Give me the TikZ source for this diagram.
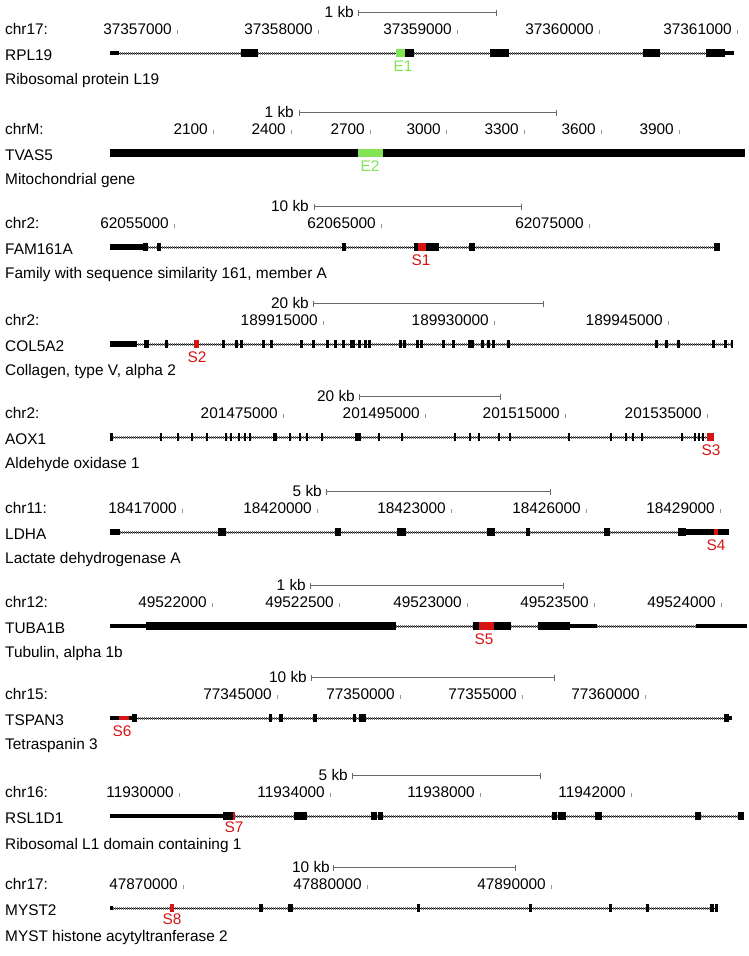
\documentclass[tikz,border=0pt]{standalone}
\usepackage{fontspec}
\setmainfont{Liberation Sans}
\usepackage{tikz}
\usetikzlibrary{arrows.meta, positioning}

\definecolor{hitred}{RGB}{214,20,20}
\definecolor{hitgreen}{RGB}{130,228,85}
\definecolor{rulegray}{RGB}{105,105,105}

\begin{document}
\begin{tikzpicture}[
    x=1pt, y=-1pt,
    font=\fontsize{15.4}{18}\selectfont,
    txt/.style={anchor=base west, inner sep=0pt},
    poslbl/.style={anchor=base east, inner sep=0pt},
    hit/.style={anchor=base, inner sep=0pt, text=#1},
    hit/.default={hitred},
    scalebar/.style={draw=rulegray, line width=0.9pt, {Bar[width=6pt]}-{Bar[width=6pt]}},
    tickmark/.style={draw=rulegray!70, line width=0.8pt},
    intron/.style={draw=black, line width=0.8pt, postaction={draw=black!55, line width=3pt, dash pattern=on 0.8pt off 1.2pt}}
]
\useasboundingbox (0,0) rectangle (749,956);

% RPL19
\begin{scope}[shift={(0,53)}]
\node[txt] (chrA) at (5,-19) {chr17:};
\node[poslbl] (kbA) at (354,-36) {1 kb};
\draw[scalebar] (358,-40.5) -- (497,-40.5);
\foreach \t/\v in {177/37357000, 318/37358000, 457/37359000, 599/37360000, 737/37361000}{
  \node[poslbl] at (\t-5,-19) {\v};
  \draw[tickmark] (\t,-23) -- (\t,-19);
}
\node[txt] (geneA) at (5,7) {RPL19};
\node[txt] (descA) at (5,31) {Ribosomal protein L19};
\draw[intron] (112,0) -- (732,0);
\foreach \a/\b in {241/258, 396/414, 490/509, 643/660, 706/725}
  \fill (\a,-3.8) rectangle (\b,3.8);
\foreach \a/\b in {110/119, 725/734}
  \fill (\a,-2.4) rectangle (\b,2.4);
\fill[hitgreen] (396,-3.8) rectangle (405,3.8);
\node[hit=hitgreen] (hitE1) at (403,18) {E1};
\end{scope}

% TVAS5
\begin{scope}[shift={(0,153)}]
\node[txt] (chrB) at (5,-19) {chrM:};
\node[poslbl] (kbB) at (294,-36) {1 kb};
\draw[scalebar] (299,-40.5) -- (557,-40.5);
\foreach \t/\v in {213/2100, 291/2400, 370/2700, 446/3000, 524/3300, 601/3600, 679/3900}{
  \node[poslbl] at (\t-5,-19) {\v};
  \draw[tickmark] (\t,-23) -- (\t,-19);
}
\node[txt] (geneB) at (5,7) {TVAS5};
\node[txt] (descB) at (5,31) {Mitochondrial gene};
\fill (110,-3.6) rectangle (745,3.6);
\fill[hitgreen] (358,-3.6) rectangle (383,3.6);
\node[hit=hitgreen] (hitE2) at (370,18) {E2};
\end{scope}

% FAM161A
\begin{scope}[shift={(0,247)}]
\node[txt] (chrC) at (5,-19) {chr2:};
\node[poslbl] (kbC) at (309,-36) {10 kb};
\draw[scalebar] (314,-40.5) -- (522,-40.5);
\foreach \t/\v in {174/62055000, 381/62065000, 589/62075000}{
  \node[poslbl] at (\t-5,-19) {\v};
  \draw[tickmark] (\t,-23) -- (\t,-19);
}
\node[txt] (geneC) at (5,7) {FAM161A};
\node[txt] (descC) at (5,31) {Family with sequence similarity 161, member A};
\draw[intron] (112,0) -- (718,0);
\fill (110,-3) rectangle (143,3);
\foreach \a/\b in {143/148, 157/161, 342/346, 414/439, 469/475, 714/720}
  \fill (\a,-3.8) rectangle (\b,3.8);
\fill[hitred] (418,-3.8) rectangle (426,3.8);
\node[hit] (hitS1) at (421,18) {S1};
\end{scope}

% COL5A2
\begin{scope}[shift={(0,344)}]
\node[txt] (chrD) at (5,-19) {chr2:};
\node[poslbl] (kbD) at (309,-36) {20 kb};
\draw[scalebar] (313,-40.5) -- (544,-40.5);
\foreach \t/\v in {323/189915000, 494/189930000, 668/189945000}{
  \node[poslbl] at (\t-5,-19) {\v};
  \draw[tickmark] (\t,-23) -- (\t,-19);
}
\node[txt] (geneD) at (5,7) {COL5A2};
\node[txt] (descD) at (5,31) {Collagen, type V, alpha 2};
\draw[intron] (112,0) -- (731,0);
\fill (110,-3) rectangle (137,3);
\foreach \a/\b in {144/149, 165/168, 222/225, 235/237.5, 240/242.5, 262/264.5, 270/273,
    300/302.5, 312/314.5, 326/329, 334/336.5, 342/344.5, 350/355, 358/360.5, 364/366.5,
    368/370.5, 399/402, 403/406, 416/419, 420/422.5, 442/444.5, 452/455, 468/474, 481/483.5,
    487/490, 492/494.5, 507/510, 655/658, 665/667.5, 677/679.5, 712/714.5, 724/726.5, 730.5/733}
  \fill (\a,-3.8) rectangle (\b,3.8);
\fill[hitred] (194,-3.8) rectangle (199,3.8);
\node[hit] (hitS2) at (197,18) {S2};
\end{scope}

% AOX1
\begin{scope}[shift={(0,437)}]
\node[txt] (chrE) at (5,-19) {chr2:};
\node[poslbl] (kbE) at (355,-36) {20 kb};
\draw[scalebar] (359,-40.5) -- (501,-40.5);
\foreach \t/\v in {283/201475000, 425/201495000, 565/201515000, 707/201535000}{
  \node[poslbl] at (\t-5,-19) {\v};
  \draw[tickmark] (\t,-23) -- (\t,-19);
}
\node[txt] (geneE) at (5,7) {AOX1};
\node[txt] (descE) at (5,31) {Aldehyde oxidase 1};
\draw[intron] (111,0) -- (710,0);
\foreach \c in {111.5, 161, 178, 192, 207, 226, 231, 239, 245, 250, 290, 300, 307, 322,
    356.5, 359.5, 379, 402, 455, 470, 479, 499, 510, 569, 611, 626, 633, 642, 682, 695, 699, 703}
  \fill (\c-1.2,-3.8) rectangle (\c+1.2,3.8);
\fill (273,-3.8) rectangle (277,3.8);
\fill[hitred] (707,-3.8) rectangle (714,3.8);
\node[hit] (hitS3) at (711,18) {S3};
\end{scope}

% LDHA
\begin{scope}[shift={(0,532)}]
\node[txt] (chrF) at (5,-19) {chr11:};
\node[poslbl] (kbF) at (322,-36) {5 kb};
\draw[scalebar] (326,-40.5) -- (551,-40.5);
\foreach \t/\v in {182/18417000, 317/18420000, 451/18423000, 586/18426000, 720/18429000}{
  \node[poslbl] at (\t-5,-19) {\v};
  \draw[tickmark] (\t,-23) -- (\t,-19);
}
\node[txt] (geneF) at (5,7) {LDHA};
\node[txt] (descF) at (5,31) {Lactate dehydrogenase A};
\draw[intron] (112,0) -- (727,0);
\foreach \a/\b in {218/226, 335/341, 397/406, 487/495, 526/530, 604/610, 678/686}
  \fill (\a,-3.8) rectangle (\b,3.8);
\foreach \a/\b in {110/120, 686/729}
  \fill (\a,-2.8) rectangle (\b,2.8);
\fill[hitred] (714,-2.8) rectangle (718,2.8);
\node[hit] (hitS4) at (716,18) {S4};
\end{scope}

% TUBA1B
\begin{scope}[shift={(0,626)}]
\node[txt] (chrG) at (5,-19) {chr12:};
\node[poslbl] (kbG) at (306,-36) {1 kb};
\draw[scalebar] (310,-40.5) -- (564,-40.5);
\foreach \t/\v in {212/49522000, 339/49522500, 467/49523000, 594/49523500, 721/49524000}{
  \node[poslbl] at (\t-5,-19) {\v};
  \draw[tickmark] (\t,-23) -- (\t,-19);
}
\node[txt] (geneG) at (5,7) {TUBA1B};
\node[txt] (descG) at (5,31) {Tubulin, alpha 1b};
\draw[intron] (396,0) -- (473,0);
\draw[intron] (511,0) -- (538,0);
\draw[intron] (597,0) -- (696,0);
\foreach \a/\b in {146/396, 473/511, 538/570}
  \fill (\a,-3.8) rectangle (\b,3.8);
\foreach \a/\b in {110/146, 570/597, 696/747}
  \fill (\a,-2.4) rectangle (\b,2.4);
\fill[hitred] (479,-3.8) rectangle (494,3.8);
\node[hit] (hitS5) at (484,18) {S5};
\end{scope}

% TSPAN3
\begin{scope}[shift={(0,718)}]
\node[txt] (chrH) at (5,-19) {chr15:};
\node[poslbl] (kbH) at (307,-36) {10 kb};
\draw[scalebar] (311,-40.5) -- (555,-40.5);
\foreach \t/\v in {277/77345000, 400/77350000, 522/77355000, 645/77360000}{
  \node[poslbl] at (\t-5,-19) {\v};
  \draw[tickmark] (\t,-23) -- (\t,-19);
}
\node[txt] (geneH) at (5,7) {TSPAN3};
\node[txt] (descH) at (5,31) {Tetraspanin 3};
\draw[intron] (130,0) -- (726,0);
\foreach \a/\b in {132/137, 269/272, 279/283, 313/317, 353/356, 359/366, 724/729}
  \fill (\a,-3.8) rectangle (\b,3.8);
\foreach \a/\b in {110/132, 729/732}
  \fill (\a,-2.4) rectangle (\b,2.4);
\fill[hitred] (119,-2.4) rectangle (129,2.4);
\node[hit] (hitS6) at (122,18) {S6};
\end{scope}

% RSL1D1
\begin{scope}[shift={(0,816)}]
\node[txt] (chrI) at (5,-19) {chr16:};
\node[poslbl] (kbI) at (348,-36) {5 kb};
\draw[scalebar] (352,-40.5) -- (541,-40.5);
\foreach \t/\v in {179/11930000, 330/11934000, 480/11938000, 631/11942000}{
  \node[poslbl] at (\t-5,-19) {\v};
  \draw[tickmark] (\t,-23) -- (\t,-19);
}
\node[txt] (geneI) at (5,7) {RSL1D1};
\node[txt] (descI) at (5,33.5) {Ribosomal L1 domain containing 1};
\draw[intron] (235,0) -- (742,0);
\fill (110,-2.4) rectangle (223,2.4);
\foreach \a/\b in {223/235, 294/307, 371/377, 378/383, 552/557, 558/566, 595/602, 695/701, 738/744}
  \fill (\a,-3.8) rectangle (\b,3.8);
\fill[hitred] (233,-3.8) rectangle (235,3.8);
\node[hit] (hitS7) at (234,16) {S7};
\end{scope}

% MYST2
\begin{scope}[shift={(0,908)}]
\node[txt] (chrJ) at (5,-19) {chr17:};
\node[poslbl] (kbJ) at (330,-36) {10 kb};
\draw[scalebar] (333,-40.5) -- (516,-40.5);
\foreach \t/\v in {183/47870000, 367/47880000, 551/47890000}{
  \node[poslbl] at (\t-5,-19) {\v};
  \draw[tickmark] (\t,-23) -- (\t,-19);
}
\node[txt] (geneJ) at (5,7) {MYST2};
\node[txt] (descJ) at (5,33.5) {MYST histone acytyltranferase 2};
\draw[intron] (111,0) -- (716,0);
\foreach \a/\b in {259/263, 288/293, 417/420, 529/532, 609/611.5, 646/649, 710/714, 715/718}
  \fill (\a,-3.8) rectangle (\b,3.8);
\fill (110,-2.4) rectangle (113,2.4);
\fill[hitred] (170,-3.8) rectangle (174,3.8);
\node[hit] (hitS8) at (172,16) {S8};
\end{scope}

\end{tikzpicture}
\end{document}
